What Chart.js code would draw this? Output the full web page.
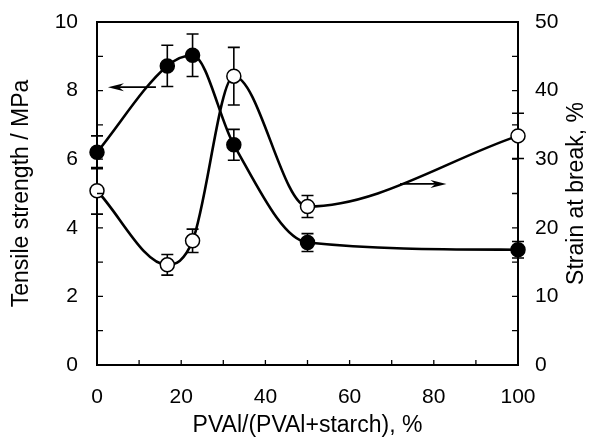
<!DOCTYPE html>
<html>
<head>
<meta charset="utf-8">
<script src="https://cdn.jsdelivr.net/npm/chart.js@4"></script>
<style>
  html, body { margin:0; padding:0; background:#fff; }
  #wrap { width:600px; height:439px; position:relative; }
</style>
</head>
<body>
<div id="wrap"><canvas id="c"></canvas></div>
<script>
// ── Data ─────────────────────────────────────────────────────
const ratio       = [0, 16.7, 22.7, 32.5, 50, 100];          // PVAl/(PVAl+starch), %
const tensile     = [6.2, 8.72, 9.03, 6.42, 3.57, 3.36];     // MPa
const tensileErr  = [0.48, 0.6, 0.62, 0.45, 0.26, 0.24];
const strain      = [25.4, 14.6, 18.1, 42.1, 23.1, 33.4];    // %
const strainErr   = [3.4, 1.5, 1.7, 4.2, 1.6, 3.3];
const xTicks      = [0, 20, 40, 60, 80, 100];
const tsTicks     = [0, 2, 4, 6, 8, 10];
const stTicks     = [0, 10, 20, 30, 40, 50];
// arrows: [fromX, toX, yValue]
const tsArrow     = [14, 2.6, 8.1];
const stArrow     = [72, 83, 26.4];

const FONT = '"Liberation Sans", Arial, sans-serif';
const rightTitle = 'Strain at break, %';

// ── Error bars ───────────────────────────────────────────────
const errorBars = {
  id: 'errorBars',
  beforeDatasetsDraw(chart) {
    const ctx = chart.ctx;
    chart.data.datasets.forEach((ds, i) => {
      const meta = chart.getDatasetMeta(i);
      const ys = chart.scales[ds.yAxisID];
      ctx.save();
      ctx.strokeStyle = '#000';
      ctx.lineWidth = 1.6;
      meta.data.forEach((pt, j) => {
        const v = ds.data[j].y, e = ds.err[j];
        const y1 = ys.getPixelForValue(v + e), y2 = ys.getPixelForValue(v - e);
        ctx.beginPath();
        ctx.moveTo(pt.x, y1); ctx.lineTo(pt.x, y2);
        ctx.moveTo(pt.x - 6, y1); ctx.lineTo(pt.x + 6, y1);
        ctx.moveTo(pt.x - 6, y2); ctx.lineTo(pt.x + 6, y2);
        ctx.stroke();
      });
      ctx.restore();
    });
  }
};

// ── Frame, inward ticks, arrows, right title ─────────────────
function arrow(ctx, x1, x2, y) {
  const dir = Math.sign(x2 - x1);
  ctx.beginPath();
  ctx.moveTo(x1, y); ctx.lineTo(x2 - dir * 8, y);
  ctx.stroke();
  ctx.beginPath();
  ctx.moveTo(x2, y);
  ctx.lineTo(x2 - dir * 16, y - 4);
  ctx.lineTo(x2 - dir * 11, y);
  ctx.lineTo(x2 - dir * 16, y + 4);
  ctx.closePath();
  ctx.fill();
}

const frame = {
  id: 'frame',
  afterDraw(chart) {
    const { ctx, chartArea: a, scales } = chart;
    ctx.save();
    ctx.strokeStyle = '#000';
    ctx.fillStyle = '#000';
    ctx.lineWidth = 2;
    ctx.beginPath();
    ctx.moveTo(a.left, a.top); ctx.lineTo(a.right, a.top);
    ctx.stroke();
    ctx.lineWidth = 1.3;
    ctx.beginPath();
    for (let v = 10; v < 100; v += 10) {
      const px = scales.x.getPixelForValue(v);
      ctx.moveTo(px, a.bottom); ctx.lineTo(px, a.bottom - 5);
    }
    for (let v = 1; v < 10; v++) {
      const py = scales.yL.getPixelForValue(v);
      ctx.moveTo(a.left, py); ctx.lineTo(a.left + 6, py);
    }
    for (let v = 5; v < 50; v += 5) {
      const py = scales.yR.getPixelForValue(v);
      ctx.moveTo(a.right, py); ctx.lineTo(a.right - 6, py);
    }
    ctx.stroke();
    ctx.lineWidth = 1.6;
    arrow(ctx, scales.x.getPixelForValue(tsArrow[0]), scales.x.getPixelForValue(tsArrow[1]), scales.yL.getPixelForValue(tsArrow[2]));
    arrow(ctx, scales.x.getPixelForValue(stArrow[0]), scales.x.getPixelForValue(stArrow[1]), scales.yR.getPixelForValue(stArrow[2]));

    // right axis title reads bottom-to-top like the left one
    ctx.translate(scales.yR.right - 23, (a.top + a.bottom) / 2);
    ctx.rotate(-Math.PI / 2);
    ctx.font = '23px ' + FONT;
    ctx.textAlign = 'center';
    ctx.textBaseline = 'middle';
    ctx.fillText(rightTitle, 0, 0);
    ctx.restore();
  }
};

const pts = (xs, ys) => xs.map((x, i) => ({ x, y: ys[i] }));
const tickFont  = { family: FONT, size: 21 };
const titleFont = { family: FONT, size: 23 };
const fixY = w => s => { s.width = w; s.paddingTop = 0; s.paddingBottom = 0; };

new Chart(document.getElementById('c'), {
  type: 'line',
  data: {
    datasets: [
      {
        label: 'Tensile strength', data: pts(ratio, tensile), err: tensileErr, yAxisID: 'yL',
        borderColor: '#000', borderWidth: 2.6, cubicInterpolationMode: 'monotone',
        pointRadius: 7, pointBackgroundColor: '#000', pointBorderColor: '#000', pointBorderWidth: 1.5,
        clip: false
      },
      {
        label: 'Strain at break', data: pts(ratio, strain), err: strainErr, yAxisID: 'yR',
        borderColor: '#000', borderWidth: 2.6, cubicInterpolationMode: 'monotone',
        pointRadius: 7, pointBackgroundColor: '#fff', pointBorderColor: '#000', pointBorderWidth: 1.5,
        clip: false
      }
    ]
  },
  options: {
    responsive: true, maintainAspectRatio: false, animation: false,
    layout: { padding: { top: 22, left: 0, right: 0, bottom: 0 } },
    plugins: { legend: { display: false }, tooltip: { enabled: false } },
    scales: {
      x: {
        type: 'linear', min: 0, max: 100,
        afterBuildTicks: s => { s.ticks = xTicks.map(v => ({ value: v })); },
        afterFit: s => { s.height = 74; s.paddingLeft = 0; s.paddingRight = 0; },
        grid: { display: false, drawTicks: false },
        border: { display: true, color: '#000', width: 2 },
        ticks: { color: '#000', font: tickFont, padding: 20, maxRotation: 0 },
        title: { display: true, text: 'PVAl/(PVAl+starch), %', color: '#000', font: titleFont, padding: { top: 0, bottom: 0 } }
      },
      yL: {
        type: 'linear', position: 'left', min: 0, max: 10,
        afterBuildTicks: s => { s.ticks = tsTicks.map(v => ({ value: v })); },
        afterFit: fixY(97),
        grid: { display: false, drawTicks: false },
        border: { display: true, color: '#000', width: 2 },
        ticks: { color: '#000', font: tickFont, padding: 19 },
        title: { display: true, text: 'Tensile strength / MPa', color: '#000', font: titleFont, padding: { top: 8, bottom: 0 } }
      },
      yR: {
        type: 'linear', position: 'right', min: 0, max: 50,
        afterBuildTicks: s => { s.ticks = stTicks.map(v => ({ value: v })); },
        afterFit: fixY(82),
        grid: { display: false, drawTicks: false },
        border: { display: true, color: '#000', width: 2 },
        ticks: { color: '#000', font: tickFont, padding: 17 },
        title: { display: false }
      }
    }
  },
  plugins: [errorBars, frame]
});
</script>
</body>
</html>
